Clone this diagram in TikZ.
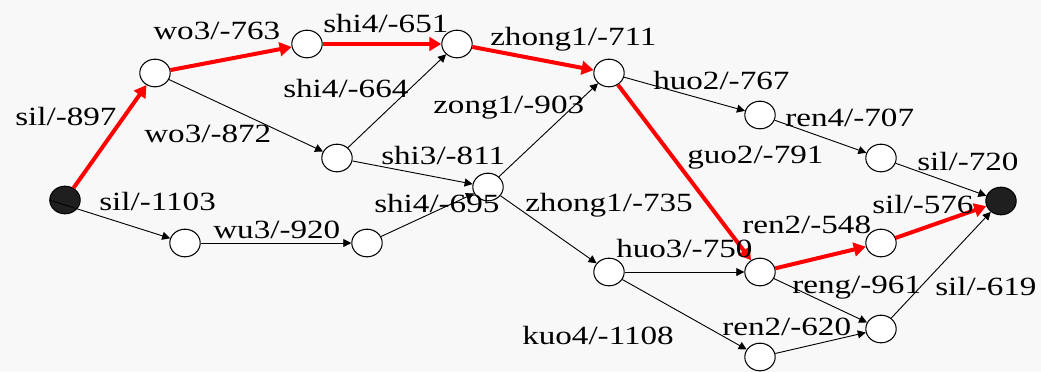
\documentclass[tikz,border=0pt]{standalone}
\usepackage{fontspec}
\setmainfont{Liberation Serif}[FakeStretch=1.26]
\usetikzlibrary{shapes.geometric,arrows.meta}
\definecolor{paper}{RGB}{248,248,248}
\begin{document}
\begin{tikzpicture}[x=0.25mm, y=-0.25mm, every node/.style={font=\fontsize{18.7}{22}\selectfont}, st/.style={draw, ellipse, fill=white, line width=0.75pt, minimum width=7.6mm, minimum height=6.9mm, inner sep=0pt}, ends/.style={st, fill=black!88}, lab/.style={anchor=base west, inner sep=0pt}, arc/.style={-{Triangle[length=2mm,width=2mm]}, line width=0.65pt}, best/.style={-{Triangle[length=3mm,width=3.4mm]}, red, line width=1mm}]
\fill[paper] (0,0) rectangle (1041,372);
\useasboundingbox (0,0) rectangle (1041,372);
% lattice states
\node[ends] (beg) at (65,200) {};
\node[st] (v1) at (155,73) {};
\node[st] (v2) at (307,44) {};
\node[st] (v3) at (337,158) {};
\node[st] (v4) at (185,243) {};
\node[st] (v5) at (457,44) {};
\node[st] (v6) at (488,187) {};
\node[st] (v7) at (367,243) {};
\node[st] (v8) at (609,73) {};
\node[st] (v9) at (609,272) {};
\node[st] (v10) at (760,115) {};
\node[st] (v11) at (881,158) {};
\node[st] (v12) at (760,272) {};
\node[st] (v13) at (881,243) {};
\node[st] (v14) at (881,329) {};
\node[st] (v15) at (760,357) {};
\node[ends] (fin) at (1001,201) {};
% arcs
\draw[best] (beg) -- (v1);
\draw[arc] (beg.west) -- (v4);
\draw[best] (v1) -- (v2);
\draw[arc] (v1) -- (v3);
\draw[arc] (v4) -- (v7);
\draw[best] (v2) -- (v5);
\draw[arc] (v3) -- (v5);
\draw[arc] (v3) -- (v6);
\draw[arc] (v7) -- (v6);
\draw[best] (v5) -- (v8);
\draw[arc] (v6) -- (v8);
\draw[arc] (v6) -- (v9);
\draw[arc] (v8) -- (v10);
\draw[best] (v8) -- (v12);
\draw[arc] (v9) -- (v12);
\draw[arc] (v9) -- (v15);
\draw[arc] (v10) -- (v11);
\draw[arc] (v11) -- (fin);
\draw[best] (v12) -- (v13);
\draw[arc] (v12) -- (v14);
\draw[arc] (v15) -- (v14);
\draw[best] (v13) -- (fin);
\draw[arc] (v14) -- (fin);
% word/score labels
\node[lab] (l1) at (15,125) {sil/-897};
\node[lab] (l2) at (153,39) {wo3/-763};
\node[lab] (l3) at (144,142) {wo3/-872};
\node[lab] (l4) at (99,210) {sil/-1103};
\node[lab] (l5) at (213,238) {wu3/-920};
\node[lab] (l6) at (323,32) {shi4/-651};
\node[lab] (l7) at (283,97) {shi4/-664};
\node[lab] (l8) at (490,45) {zhong1/-711};
\node[lab] (l9) at (433,113) {zong1/-903};
\node[lab] (l10) at (381,164) {shi3/-811};
\node[lab] (l11) at (374,212) {shi4/-695};
\node[lab] (l12) at (525,211) {zhong1/-735};
\node[lab] (l13) at (616,257) {huo3/-750};
\node[lab] (l14) at (522,344) {kuo4/-1108};
\node[lab] (l15) at (653,89) {huo2/-767};
\node[lab] (l16) at (785,126) {ren4/-707};
\node[lab] (l17) at (687,163) {guo2/-791};
\node[lab] (l18) at (917,170) {sil/-720};
\node[lab] (l19) at (872,213) {sil/-576};
\node[lab] (l20) at (742,233) {ren2/-548};
\node[lab] (l21) at (792,293) {reng/-961};
\node[lab] (l22) at (935,295) {sil/-619};
\node[lab] (l23) at (722,335) {ren2/-620};
\end{tikzpicture}
\end{document}
